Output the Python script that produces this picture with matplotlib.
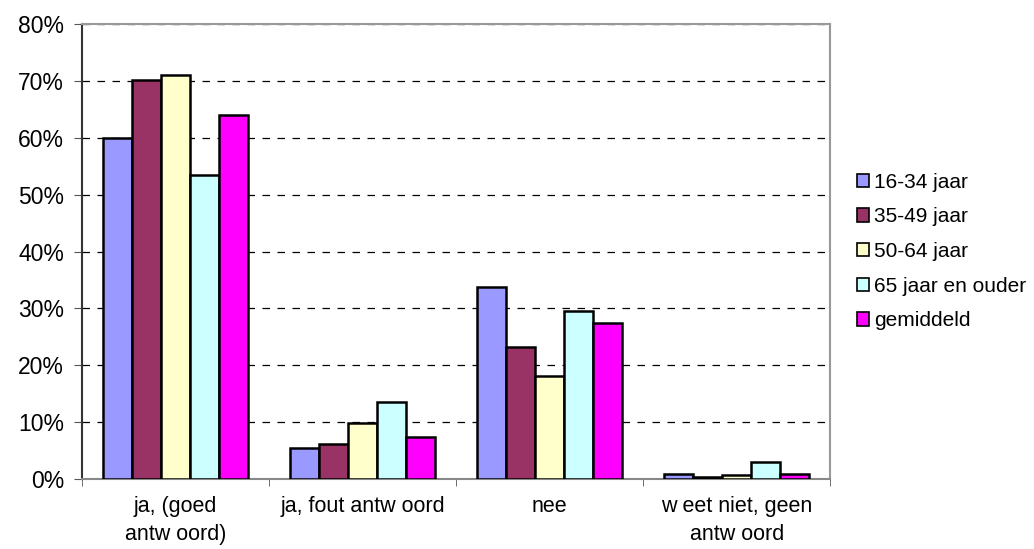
import matplotlib.pyplot as plt
import numpy as np

plt.rcParams['font.family'] = ['Liberation Sans', 'DejaVu Sans']

categories = ["ja, (goed\nantw oord)", "ja, fout antw oord", "nee", "w eet niet, geen\nantw oord"]
series = ["16-34 jaar", "35-49 jaar", "50-64 jaar", "65 jaar en ouder", "gemiddeld"]
colors = ["#9999FF", "#993366", "#FFFFCC", "#CCFFFF", "#FF00FF"]

age_16_34 = [59.9, 5.4, 33.8, 0.9]
age_35_49 = [70.1, 6.1, 23.2, 0.4]
age_50_64 = [71.1, 9.9, 18.2, 0.7]
age_65_up = [53.4, 13.5, 29.6, 3.0]
average = [64.1, 7.4, 27.4, 0.9]
values = [age_16_34, age_35_49, age_50_64, age_65_up, average]

fig = plt.figure(figsize=(10.34, 5.49), dpi=100)
ax = fig.add_axes([0.0793, 0.1275, 0.7237, 0.8285])

x = np.arange(len(categories))
w = 0.155
for i, (name, vals, c) in enumerate(zip(series, values, colors)):
    ax.bar(x + (i - 2) * w, vals, w, color=c, edgecolor="black", linewidth=1.8,
           label=name, zorder=3)

ax.set_xlim(-0.5, len(categories) - 0.5)
ax.set_ylim(0, 80)
ax.set_yticks(np.arange(0, 81, 10))
ax.set_yticklabels([f"{v}%" for v in range(0, 81, 10)], fontsize=16.5)
ax.yaxis.grid(True, linestyle=(0, (6, 6)), color="black", linewidth=0.9, zorder=0)

ax.set_xticks(x)
ax.set_xticklabels(categories, fontsize=15.5, linespacing=1.45)
ax.tick_params(axis="x", length=0, pad=12)
ax.set_xticks(np.arange(-0.5, len(categories)), minor=True)
ax.tick_params(axis="x", which="minor", length=5, color="#555555")
ax.tick_params(axis="y", length=6, color="#555555", direction="out", pad=7)

for side in ["top", "right"]:
    ax.spines[side].set_color("#999999")
    ax.spines[side].set_linewidth(1.5)
ax.spines["left"].set_color("#333333")
ax.spines["left"].set_linewidth(1.5)
ax.spines["bottom"].set_color("#888888")
ax.spines["bottom"].set_linewidth(1.5)

leg = ax.legend(loc="center left", bbox_to_anchor=(1.024, 0.5), frameon=False,
                fontsize=15, handlelength=0.6, handleheight=0.6,
                handletextpad=0.25, labelspacing=0.75, borderaxespad=0)
for h in leg.legend_handles:
    h.set_linewidth(1.2)

fig.savefig("out.png", dpi=100)
